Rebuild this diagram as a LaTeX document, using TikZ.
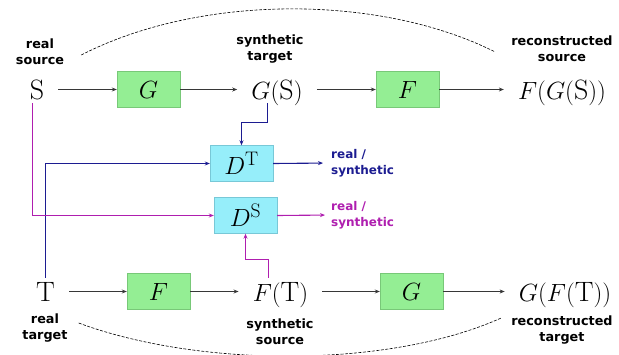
\documentclass[tikz,border=0pt]{standalone}
\usepackage{fontspec}
\newfontfamily\lblfont{DejaVu Sans}[BoldFont={DejaVu Sans Bold}]
\usetikzlibrary{arrows.meta,calc}
\definecolor{boxgreen}{RGB}{148,238,148}
\definecolor{boxgreenline}{RGB}{120,200,120}
\definecolor{boxcyan}{RGB}{150,238,250}
\definecolor{boxcyanline}{RGB}{120,200,215}
\definecolor{wire}{RGB}{55,55,55}
\definecolor{navyline}{RGB}{28,28,145}
\definecolor{purpline}{RGB}{175,30,175}
\tikzset{
  term/.style={inner xsep=14pt, inner ysep=2pt, text height=21pt, text depth=2pt, font=\fontsize{28}{30}\selectfont},
  genbox/.style={draw=boxgreenline, fill=boxgreen, minimum width=63pt, minimum height=36pt, inner sep=0pt, font=\fontsize{28}{30}\selectfont},
  discbox/.style={draw=boxcyanline, fill=boxcyan, minimum width=63pt, minimum height=36pt, inner sep=0pt, font=\fontsize{28}{30}\selectfont},
  tag/.style={font=\lblfont\bfseries\fontsize{12.8}{16}\selectfont, align=center, inner sep=0pt},
  outtag/.style={font=\lblfont\bfseries\fontsize{12}{16}\selectfont, align=left, inner sep=0pt, anchor=west},
  flow/.style={draw=wire, line width=1pt, -{Stealth[length=5pt,width=4pt]}},
  navyflow/.style={draw=navyline, line width=1.1pt, -{Stealth[length=5pt,width=4pt]}},
  purpflow/.style={draw=purpline, line width=1.1pt, -{Stealth[length=5pt,width=4pt]}},
  cycle/.style={draw=black, line width=0.6pt, dash pattern=on 3pt off 1.5pt},
}
\begin{document}
\begin{tikzpicture}[x=1pt, y=-1pt]
\useasboundingbox (0,0) rectangle (619,354);

% top row: source -> target -> source
\node[term] (S) at (37,89.5) {$\mathrm{S}$};
\node[genbox] (G1) at (148.5,89.5) {$G$};
\node[term] (GS) at (277,89.5) {$G(\mathrm{S})$};
\node[genbox] (F1) at (407.5,89.5) {$F$};
\node[term] (FGS) at (562,89.5) {$F(G(\mathrm{S}))$};

% bottom row: target -> source -> target
\node[term] (T) at (45.5,291.5) {$\mathrm{T}$};
\node[genbox] (F2) at (158.5,291.5) {$F$};
\node[term] (FT) at (280.5,291.5) {$F(\mathrm{T})$};
\node[genbox] (G2) at (411.5,291.5) {$G$};
\node[term] (GFT) at (565,291.5) {$G(F(\mathrm{T}))$};

% discriminators
\node[discbox] (DT) at (241.5,163.5) {$D^{\mathrm{T}}$};
\node[discbox] (DS) at (245.5,215.5) {$D^{\mathrm{S}}$};

% captions
\node[tag] (capS) at (40,52) {real\\source};
\node[tag] (capGS) at (270,49) {synthetic\\target};
\node[tag] (capFGS) at (562,49) {reconstructed\\source};
\node[tag] (capT) at (45,328) {real\\target};
\node[tag] (capFT) at (280,332) {synthetic\\source};
\node[tag] (capGFT) at (562,330) {reconstructed\\target};

\node[outtag, text=navyline] (outT) at (331,163) {real /\\synthetic};
\node[outtag, text=purpline] (outS) at (331,215) {real /\\synthetic};

% generator chains
\draw[flow] (S) -- (G1);
\draw[flow] (G1) -- (GS);
\draw[flow] (GS) -- (F1);
\draw[flow] (F1) -- (FGS);
\draw[flow] (T) -- (F2);
\draw[flow] (F2) -- (FT);
\draw[flow] (FT) -- (G2);
\draw[flow] (G2) -- (GFT);

% discriminator inputs
\draw[navyflow] (T.north) |- (DT.west);
\draw[navyflow] ([xshift=-9.5pt]GS.south) |- ($(DT.north)+(0,-23)$) -- (DT.north);
\draw[purpflow] ([xshift=-4.5pt]S.south) |- (DS.west);
\draw[purpflow] ([xshift=-12pt]FT.north) |- ($(DS.south)+(0,26)$) -- (DS.south);

% discriminator outputs
\draw[navyflow, shorten >=8pt] (DT.east) -- (outT.west);
\draw[purpflow, shorten >=6pt] (DS.east) -- (outS.west);

% cycle-consistency arcs
\draw[cycle] ($(capS.east)+(17,3)$) .. controls (200,-6) and (380,-6) .. ($(capFGS.west)+(-16,3)$);
\draw[cycle] ($(capT.east)+(11,-5)$) .. controls (200,368) and (390,368) .. ($(capGFT.west)+(-10,-12)$);
\end{tikzpicture}
\end{document}
